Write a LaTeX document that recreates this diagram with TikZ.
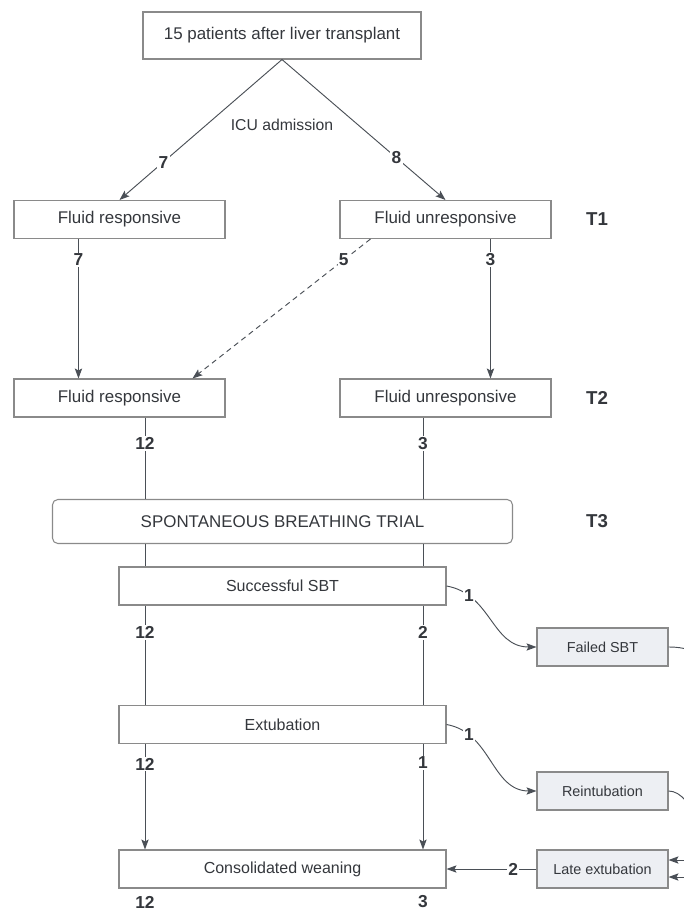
\documentclass[tikz,border=0pt]{standalone}
\usepackage{fontspec}
\setmainfont{Liberation Sans}
\usetikzlibrary{arrows.meta,calc}
\definecolor{linegray}{HTML}{4A4F56}
\definecolor{boxline}{HTML}{8A8A8A}
\definecolor{textgray}{HTML}{34373C}
\definecolor{boxfill}{HTML}{EDEFF3}

\begin{document}
\begin{tikzpicture}[x=0.75pt,y=-0.75pt,
    box/.style={draw=boxline,line width=0.8pt,text=textgray,font=\fontsize{12.7}{15}\selectfont,minimum height=28.5pt,inner sep=0pt},
    midbox/.style={box,font=\fontsize{12}{14}\selectfont,minimum width=245.25pt},
    sidebox/.style={box,fill=boxfill,font=\fontsize{10.8}{13}\selectfont,minimum width=98.25pt},
    num/.style={fill=white,text=textgray,font=\fontsize{13}{15}\selectfont\bfseries,inner sep=1pt},
    tlab/.style={text=textgray,font=\fontsize{14}{16}\selectfont\bfseries},
    conn/.style={draw=linegray,line width=0.7pt},
    arr/.style={conn,-{Stealth[length=7.5pt,width=5.5pt,inset=1.5pt]}}]
    \useasboundingbox (0,0) rectangle (684,911);
    \clip (0,0) rectangle (684,911);

    \node[box,minimum width=208.5pt,minimum height=35.25pt] (patients) at (282,35.5) {15 patients after liver transplant};
    \node[text=textgray,font=\fontsize{11.8}{14}\selectfont] (icu) at (282,125) {ICU admission};
    \node[box,minimum width=158.25pt] (resp1) at (119.5,219.5) {Fluid responsive};
    \node[box,minimum width=158.25pt] (unresp1) at (445.5,219.5) {Fluid unresponsive};
    \node[box,minimum width=158.25pt] (resp2) at (119.5,398) {Fluid responsive};
    \node[box,minimum width=158.25pt] (unresp2) at (445.5,398) {Fluid unresponsive};
    \node[box,rounded corners=4pt,minimum width=345pt,minimum height=33pt] (sbt) at (282.5,521.5) {SPONTANEOUS BREATHING TRIAL};
    \node[midbox] (success) at (282.5,586) {Successful SBT};
    \node[midbox] (extub) at (282.5,724.5) {Extubation};
    \node[midbox] (weaning) at (282.5,869) {Consolidated weaning};
    \node[sidebox] (failed) at (602.5,647) {Failed SBT};
    \node[sidebox] (reint) at (602.5,791) {Reintubation};
    \node[sidebox] (late) at (602.5,869) {Late extubation};
    \node[tlab] (t1) at (597,219) {T1};
    \node[tlab] (t2) at (597,398) {T2};
    \node[tlab] (t3) at (597,521) {T3};

    \draw[arr] (patients.south) -- node[num,pos=0.73]{7} (resp1.north);
    \draw[arr] (patients.south) -- node[num,pos=0.7]{8} (unresp1.north);

    \coordinate (c1) at ($(resp1.south west)+(65,0)$);
    \coordinate (c2) at ($(unresp1.south west)+(151,0)$);
    \coordinate (c3) at ($(unresp1.south west)+(31,0)$);
    \coordinate (c4) at ($(resp2.north west)+(179,0)$);
    \draw[arr] (c1) -- node[num,pos=0.15]{7} (c1 |- resp2.north);
    \draw[arr] (c2) -- node[num,pos=0.15]{3} (c2 |- unresp2.north);
    \draw[arr,dash pattern=on 4pt off 3pt] (c3) -- node[num,pos=0.15]{5} (c4);

    \coordinate (colL) at (145,0);
    \coordinate (colR) at (423,0);
    \draw[conn] (colL |- resp2.south) -- node[num,pos=0.32]{12} (colL |- sbt.north);
    \draw[conn] (colR |- unresp2.south) -- node[num,pos=0.32]{3} (colR |- sbt.north);
    \draw[conn] (colL |- sbt.south) -- (colL |- success.north);
    \draw[conn] (colR |- sbt.south) -- (colR |- success.north);
    \draw[conn] (colL |- success.south) -- node[num,pos=0.27]{12} (colL |- extub.north);
    \draw[conn] (colR |- success.south) -- node[num,pos=0.27]{2} (colR |- extub.north);
    \draw[arr] (colL |- extub.south) -- node[num,pos=0.19]{12} (colL |- weaning.north);
    \draw[arr] (colR |- extub.south) -- node[num,pos=0.18]{1} (colR |- weaning.north);
    \draw[arr] (late.west) -- node[num,pos=0.26]{2} (weaning.east);

    \draw[arr] (success.east) .. controls +(45,8) and +(-45,0) .. (failed.west) node[num,pos=0.2]{1};
    \draw[arr] (extub.east) .. controls +(45,8) and +(-45,0) .. (reint.west) node[num,pos=0.2]{1};

    \coordinate (out1) at (700,654);
    \coordinate (out2) at (694,830);
    \coordinate (in1) at ($(late.east)+(30,-9)$);
    \coordinate (in2) at ($(late.east)+(30,8)$);
    \draw[conn] (failed.east) .. controls +(18,0) and +(-10,-3) .. (out1);
    \draw[conn] (reint.east) .. controls +(12,0) and +(0,-25) .. (out2);
    \draw[arr] (in1) -- (in1 -| late.east);
    \draw[arr] (in2) -- (in2 -| late.east);

    \node[num] (endL) at (145,902) {12};
    \node[num] (endR) at (423,902) {3};
\end{tikzpicture}
\end{document}
